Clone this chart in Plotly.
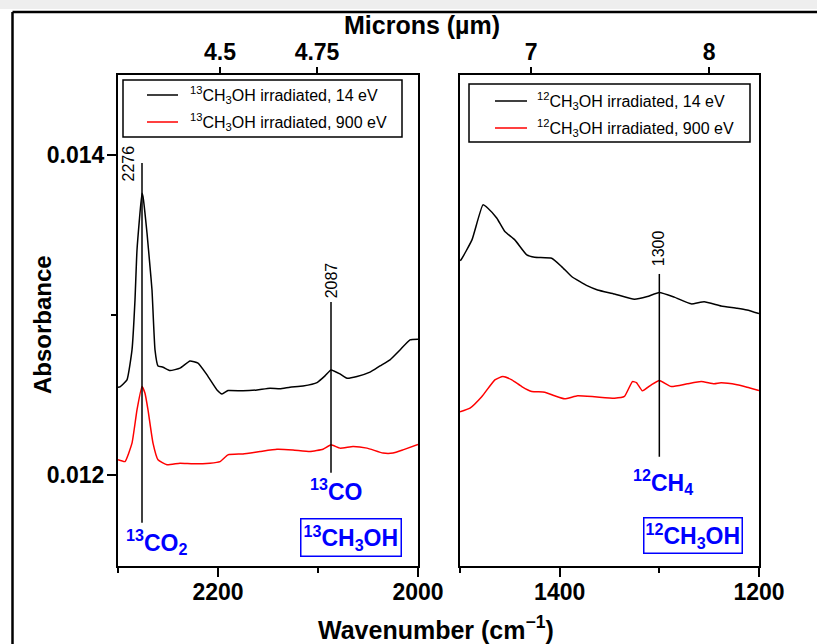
import plotly.graph_objects as go

# ---- spectra: 13C-methanol region (wavenumber in cm^-1, absorbance) ----
WN_13C_14EV = [2300, 2298, 2291, 2286, 2283, 2281, 2276, 2275, 2271, 2268, 2266, 2263, 2260,
               2255, 2248, 2238, 2228, 2220, 2211, 2201, 2196, 2190, 2175, 2161, 2148,
               2138, 2128, 2115, 2101, 2093, 2087, 2078, 2071, 2061, 2048, 2038, 2028,
               2018, 2008, 2000]
ABS_13C_14EV = [0.012548, 0.012550, 0.012594, 0.012781, 0.013094, 0.013406, 0.013760,
                0.013740, 0.013512, 0.013302, 0.013156, 0.012781, 0.012681, 0.012673,
                0.012652, 0.012667, 0.012712, 0.012698, 0.012625, 0.012531, 0.012506,
                0.012527, 0.012525, 0.012531, 0.012542, 0.012538, 0.012548, 0.012556,
                0.012577, 0.012619, 0.012656, 0.012631, 0.012604, 0.012615, 0.012642,
                0.012681, 0.012719, 0.012781, 0.012844, 0.012848]

WN_13C_900EV = [2300, 2293, 2286, 2281, 2276, 2273, 2270, 2265, 2260, 2251, 2238, 2225,
                2208, 2198, 2190, 2175, 2158, 2141, 2125, 2108, 2095, 2087, 2078, 2065,
                2051, 2035, 2025, 2015, 2000]
ABS_13C_900EV = [0.012094, 0.012083, 0.012198, 0.012406, 0.012552, 0.012510, 0.012406,
                 0.012198, 0.012094, 0.012063, 0.012073, 0.012069, 0.012073, 0.012083,
                 0.012125, 0.012131, 0.012146, 0.012160, 0.012156, 0.012146, 0.012160,
                 0.012188, 0.012167, 0.012177, 0.012167, 0.012136, 0.012136, 0.012156,
                 0.012190]

# ---- spectra: 12C-methanol region ----
WN_12C_14EV = [1500, 1499, 1488, 1477, 1472, 1463, 1455, 1445, 1433, 1425, 1408, 1398,
               1388, 1372, 1362, 1345, 1325, 1312, 1300, 1285, 1268, 1255, 1238, 1222,
               1212, 1200]
ABS_12C_14EV = [0.013340, 0.013344, 0.013469, 0.013688, 0.013667, 0.013604, 0.013521,
                0.013469, 0.013375, 0.013360, 0.013354, 0.013302, 0.013240, 0.013181,
                0.013156, 0.013131, 0.013098, 0.013115, 0.013140, 0.013111, 0.013069,
                0.013083, 0.013056, 0.013042, 0.013031, 0.013008]

WN_12C_900EV = [1500, 1490, 1478, 1465, 1457, 1448, 1438, 1428, 1415, 1405, 1395, 1382,
                1365, 1345, 1335, 1327, 1323, 1317, 1308, 1300, 1288, 1272, 1258, 1245,
                1238, 1222, 1212, 1200]
ABS_12C_900EV = [0.012394, 0.012417, 0.012490, 0.012594, 0.012615, 0.012594, 0.012552,
                 0.012521, 0.012517, 0.012494, 0.012475, 0.012494, 0.012488, 0.012479,
                 0.012490, 0.012583, 0.012577, 0.012525, 0.012563, 0.012590, 0.012552,
                 0.012569, 0.012583, 0.012569, 0.012575, 0.012563, 0.012548, 0.012527]

SERIES_NAMES_13C = ["<sup>13</sup>CH<sub>3</sub>OH irradiated, 14 eV",
                    "<sup>13</sup>CH<sub>3</sub>OH irradiated, 900 eV"]
SERIES_NAMES_12C = ["<sup>12</sup>CH<sub>3</sub>OH irradiated, 14 eV",
                    "<sup>12</sup>CH<sub>3</sub>OH irradiated, 900 eV"]

# axis ranges and ticks
X_RANGE_13C = [2300, 2000]
X_RANGE_12C = [1500, 1200]
Y_RANGE = [0.01143, 0.0145]
X_TICKS_13C = [2200, 2000]
X_TICKS_12C = [1400, 1200]
Y_TICKS = [0.012, 0.014]
Y_TICK_TEXT = ["0.012", "0.014"]
MICRON_POS_13C = [2198, 2101]
MICRON_TEXT_13C = ["4.5", "4.75"]
MICRON_POS_12C = [10000 / 7, 10000 / 8]
MICRON_TEXT_12C = ["7", "8"]

# marked band positions (cm^-1)
BAND_13CO2 = 2276
BAND_13CO = 2087
BAND_12CH4 = 1300

BLACK = "#000000"
RED = "#FF0000"
BLUE = "#0000FF"
FONT = "Liberation Sans, Arial, sans-serif"

# plot area in pixels: left 118, right 759, top 75, bottom 566
L, R, T, B = 118, 759, 75, 566
W, H = R - L, B - T


def px(xp):
    return (xp - L) / W


def py(yp):
    return (B - yp) / H


fig = go.Figure()

line_style = dict(width=1.5, shape="spline", smoothing=0.4)
fig.add_trace(go.Scatter(x=WN_13C_14EV, y=ABS_13C_14EV, mode="lines", name=SERIES_NAMES_13C[0],
                         line=dict(line_style, color=BLACK), xaxis="x", yaxis="y"))
fig.add_trace(go.Scatter(x=WN_13C_900EV, y=ABS_13C_900EV, mode="lines", name=SERIES_NAMES_13C[1],
                         line=dict(line_style, color=RED), xaxis="x", yaxis="y"))
fig.add_trace(go.Scatter(x=WN_12C_14EV, y=ABS_12C_14EV, mode="lines", name=SERIES_NAMES_12C[0],
                         line=dict(line_style, color=BLACK), xaxis="x2", yaxis="y2"))
fig.add_trace(go.Scatter(x=WN_12C_900EV, y=ABS_12C_900EV, mode="lines", name=SERIES_NAMES_12C[1],
                         line=dict(line_style, color=RED), xaxis="x2", yaxis="y2"))
# empty traces so the top micron axes are built
fig.add_trace(go.Scatter(x=X_RANGE_13C, y=[None, None], mode="lines", xaxis="x3", yaxis="y",
                         hoverinfo="skip", showlegend=False))
fig.add_trace(go.Scatter(x=X_RANGE_12C, y=[None, None], mode="lines", xaxis="x4", yaxis="y2",
                         hoverinfo="skip", showlegend=False))

tick_font = dict(family=FONT, size=23, color=BLACK, weight="bold")
axis_common = dict(showline=True, linecolor=BLACK, linewidth=2, mirror=True,
                   showgrid=False, zeroline=False, ticks="outside", tickcolor=BLACK,
                   tickwidth=2, ticklen=9, tickfont=tick_font)
top_axis = dict(side="top", showline=False, showgrid=False, zeroline=False,
                ticks="outside", tickcolor=BLACK, tickwidth=2, ticklen=7,
                tickfont=tick_font, ticklabelstandoff=-2)

left_dom = [0, px(418)]
right_dom = [px(460), 1]

fig.update_layout(
    width=817, height=644,
    margin=dict(l=L, r=817 - R, t=T, b=644 - B),
    paper_bgcolor="white", plot_bgcolor="white",
    font=dict(family=FONT, color=BLACK),
    showlegend=False,
    xaxis=dict(axis_common, domain=left_dom, range=X_RANGE_13C, tickvals=X_TICKS_13C,
               anchor="y", ticklabelstandoff=-5,
               minor=dict(ticks="outside", dtick=100, tick0=2000, ticklen=5,
                          tickwidth=2, tickcolor=BLACK)),
    xaxis2=dict(axis_common, domain=right_dom, range=X_RANGE_12C, tickvals=X_TICKS_12C,
                anchor="y2", ticklabelstandoff=-5,
                minor=dict(ticks="outside", dtick=100, tick0=1200, ticklen=5,
                           tickwidth=2, tickcolor=BLACK)),
    xaxis3=dict(top_axis, overlaying="x", anchor="y", range=X_RANGE_13C,
                tickvals=MICRON_POS_13C, ticktext=MICRON_TEXT_13C),
    xaxis4=dict(top_axis, overlaying="x2", anchor="y2", range=X_RANGE_12C,
                tickvals=MICRON_POS_12C, ticktext=MICRON_TEXT_12C),
    yaxis=dict(axis_common, range=Y_RANGE, tickvals=Y_TICKS, ticktext=Y_TICK_TEXT,
               anchor="x", ticklabelstandoff=-2,
               minor=dict(ticks="outside", dtick=0.001, tick0=0.012, ticklen=5,
                          tickwidth=2, tickcolor=BLACK)),
    yaxis2=dict(showline=True, linecolor=BLACK, linewidth=2, mirror=True,
                showgrid=False, zeroline=False, range=Y_RANGE, anchor="x2",
                showticklabels=False, ticks=""),
)

shapes = []
# band marker lines
shapes.append(dict(type="line", xref="x", yref="y", x0=BAND_13CO2, x1=BAND_13CO2,
                   y0=0.01395, y1=0.0117, line=dict(color=BLACK, width=1.5)))
shapes.append(dict(type="line", xref="x", yref="y", x0=BAND_13CO, x1=BAND_13CO,
                   y0=0.013081, y1=0.012013, line=dict(color=BLACK, width=1.5)))
shapes.append(dict(type="line", xref="x2", yref="y2", x0=BAND_12CH4, x1=BAND_12CH4,
                   y0=0.013256, y1=0.012113, line=dict(color=BLACK, width=1.5)))

# outer frame and top band
shapes.append(dict(type="rect", xref="paper", yref="paper", x0=px(0), x1=px(817),
                   y0=py(9), y1=py(0), fillcolor="#EEEEEE", line=dict(width=0),
                   layer="below"))
shapes.append(dict(type="line", xref="paper", yref="paper", x0=px(12.5), x1=px(817),
                   y0=py(12), y1=py(12), line=dict(color=BLACK, width=2.5)))
shapes.append(dict(type="line", xref="paper", yref="paper", x0=px(12.5), x1=px(12.5),
                   y0=py(12), y1=py(644), line=dict(color=BLACK, width=2.5)))

annos = []

# legends: boxed, one per panel
legend_font = dict(family=FONT, size=16, color=BLACK)
legend_specs = [
    # (box x0, x1, y0, y1, sample x0, x1, text x, row y's, names)
    (123, 402, 80, 137, 147, 178, 188, [95, 122], SERIES_NAMES_13C),
    (469, 750, 84, 142, 495, 527, 535, [101, 128], SERIES_NAMES_12C),
]
for bx0, bx1, by0, by1, sx0, sx1, tx, rows, names in legend_specs:
    shapes.append(dict(type="rect", xref="paper", yref="paper", x0=px(bx0), x1=px(bx1),
                       y0=py(by1), y1=py(by0), line=dict(color=BLACK, width=1.5),
                       fillcolor="white"))
    for row_y, name, color in zip(rows, names, [BLACK, RED]):
        shapes.append(dict(type="line", xref="paper", yref="paper", x0=px(sx0), x1=px(sx1),
                           y0=py(row_y), y1=py(row_y), line=dict(color=color, width=1.5)))
        annos.append(dict(x=px(tx), y=py(row_y), xref="paper", yref="paper", text=name,
                          showarrow=False, font=legend_font, xanchor="left",
                          yanchor="middle"))

num_font = dict(family=FONT, size=16, color=BLACK)
annos += [
    dict(x=2290, y=0.013947, xref="x", yref="y", text=str(BAND_13CO2), textangle=-90,
         showarrow=False, font=num_font, xanchor="center", yanchor="middle"),
    dict(x=BAND_13CO, y=0.013216, xref="x", yref="y", text=str(BAND_13CO), textangle=-90,
         showarrow=False, font=num_font, xanchor="center", yanchor="middle"),
    dict(x=BAND_12CH4, y=0.013419, xref="x2", yref="y2", text=str(BAND_12CH4), textangle=-90,
         showarrow=False, font=num_font, xanchor="center", yanchor="middle"),
]

species_font = dict(family=FONT, size=23, color=BLUE, weight="bold")
annos += [
    dict(x=2262, y=0.011581, xref="x", yref="y", text="<sup>13</sup>CO<sub>2</sub>",
         showarrow=False, font=species_font, xanchor="center", yanchor="middle"),
    dict(x=2082, y=0.011906, xref="x", yref="y", text="<sup>13</sup>CO",
         showarrow=False, font=species_font, xanchor="center", yanchor="middle"),
    dict(x=1296, y=0.011956, xref="x2", yref="y2", text="<sup>12</sup>CH<sub>4</sub>",
         showarrow=False, font=species_font, xanchor="center", yanchor="middle"),
    dict(x=2067, y=0.011609, xref="x", yref="y", text="<sup>13</sup>CH<sub>3</sub>OH",
         showarrow=False, font=species_font, xanchor="center", yanchor="middle",
         bordercolor=BLUE, borderwidth=1.5, borderpad=2, bgcolor="white"),
    dict(x=1266.5, y=0.011619, xref="x2", yref="y2", text="<sup>12</sup>CH<sub>3</sub>OH",
         showarrow=False, font=species_font, xanchor="center", yanchor="middle",
         bordercolor=BLUE, borderwidth=1.5, borderpad=1, bgcolor="white"),
]

annos += [
    dict(x=px(436), y=py(628), xref="paper", yref="paper",
         text="Wavenumber (cm<sup>−1</sup>)", showarrow=False,
         font=dict(family=FONT, size=25, color=BLACK, weight="bold"),
         xanchor="center", yanchor="middle"),
    dict(x=px(422), y=py(25), xref="paper", yref="paper",
         text="Microns (µm)", showarrow=False,
         font=dict(family=FONT, size=25, color=BLACK, weight="bold"),
         xanchor="center", yanchor="middle"),
    dict(x=px(42), y=py(325), xref="paper", yref="paper",
         text="Absorbance", showarrow=False, textangle=-90,
         font=dict(family=FONT, size=24, color=BLACK, weight="bold"),
         xanchor="center", yanchor="middle"),
]
fig.update_layout(annotations=annos, shapes=shapes)

fig.write_html("out.html")
